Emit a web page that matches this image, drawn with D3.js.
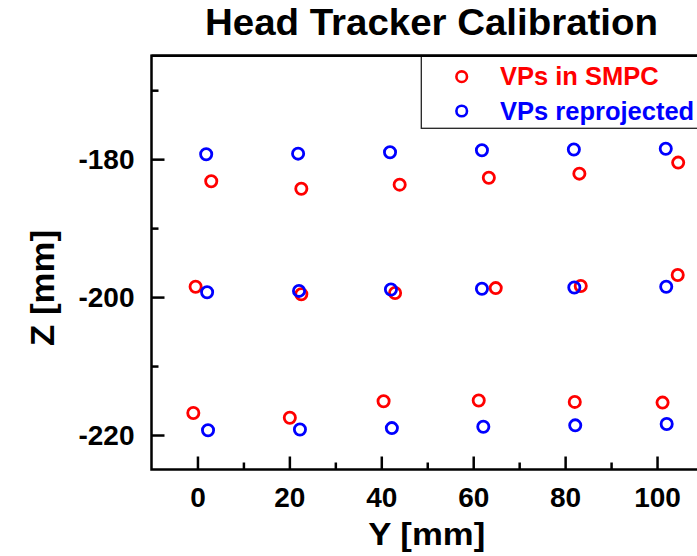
<!DOCTYPE html>
<html>
<head>
<meta charset="utf-8">
<script src="https://cdn.jsdelivr.net/npm/d3@7"></script>
<style>
  html, body { margin: 0; padding: 0; background: #fff; }
  svg { display: block; }
  text { font-family: "Liberation Sans", Arial, sans-serif; font-weight: bold; }
</style>
</head>
<body>
<script>
// ---- Data ----
const seriesNames = ["VPs in SMPC", "VPs reprojected"];
const seriesColors = ["#ff0000", "#0000ff"];

const smpcY = [3.0, 22.6, 44.0, 63.4, 83.1, 104.6, -0.4, 22.6, 43.0, 64.9, 83.4, 104.5, -0.9, 20.1, 40.5, 61.2, 82.1, 101.2];
const smpcZ = [-183.2, -184.3, -183.7, -182.7, -182.1, -180.5, -198.5, -199.6, -199.4, -198.7, -198.4, -196.8, -216.8, -217.5, -215.1, -215.0, -215.2, -215.3];

const reprojY = [1.9, 21.9, 41.9, 61.9, 81.9, 101.9, 2.1, 22.1, 42.1, 61.9, 82.0, 102.0, 2.3, 22.3, 42.3, 62.2, 82.2, 102.1];
const reprojZ = [-179.3, -179.2, -179.0, -178.7, -178.6, -178.5, -199.3, -199.1, -198.9, -198.8, -198.6, -198.5, -219.3, -219.2, -219.0, -218.8, -218.6, -218.4];

const xMajorTicks = [0, 20, 40, 60, 80, 100];
const xMinorTicks = [10, 30, 50, 70, 90, 110];
const yMajorTicks = [-180, -200, -220];
const yMinorTicks = [-170, -190, -210];

const titleText = "Head Tracker Calibration";
const xLabel = "Y [mm]";
const yLabel = "Z [mm]";

(function () {
// ---- Layout ----
const W = 697, H = 556;
const mLeft = 151.5, mRight = 703, mTop = 55.7, mBottom = 469.5;

const svg = d3.select("body").append("svg").attr("width", W).attr("height", H);

const x = d3.scaleLinear().domain([-10, 110]).range([mLeft, mRight]);
const y = d3.scaleLinear().domain([-225, -165]).range([mBottom, mTop]);

// Title
svg.append("text")
  .attr("x", 431.5).attr("y", 35)
  .attr("text-anchor", "middle")
  .attr("font-size", 36)
  .attr("textLength", 453).attr("lengthAdjust", "spacingAndGlyphs")
  .text(titleText);

const fmt = d => String(d);

// Axes
const xAxis = svg.append("g").attr("transform", `translate(0,${mBottom})`)
  .call(d3.axisBottom(x).tickValues(xMajorTicks).tickSize(-13).tickPadding(18).tickFormat(fmt));
const xMinor = svg.append("g").attr("transform", `translate(0,${mBottom})`)
  .call(d3.axisBottom(x).tickValues(xMinorTicks).tickSize(-7).tickFormat(""));
const yAxis = svg.append("g").attr("transform", `translate(${mLeft},0)`)
  .call(d3.axisLeft(y).tickValues(yMajorTicks).tickSize(-13).tickPadding(17).tickFormat(fmt));
const yMinor = svg.append("g").attr("transform", `translate(${mLeft},0)`)
  .call(d3.axisLeft(y).tickValues(yMinorTicks).tickSize(-7).tickFormat(""));

[xAxis, xMinor, yAxis, yMinor].forEach(g => {
  g.select(".domain").remove();
  g.selectAll(".tick line").attr("stroke", "#000").attr("stroke-width", 2.5);
  g.selectAll(".tick text").attr("fill", "#000").attr("font-size", 28)
    .attr("font-family", "Liberation Sans, Arial, sans-serif").attr("font-weight", "bold");
});
yAxis.selectAll(".tick text").attr("dy", "0.33em");

// Frame
svg.append("rect")
  .attr("x", mLeft).attr("y", mTop)
  .attr("width", mRight - mLeft).attr("height", mBottom - mTop)
  .attr("fill", "none").attr("stroke", "#000").attr("stroke-width", 2.5);

// Axis labels
svg.append("text")
  .attr("x", 426.7).attr("y", 545)
  .attr("text-anchor", "middle")
  .attr("font-size", 32)
  .attr("textLength", 117).attr("lengthAdjust", "spacingAndGlyphs")
  .text(xLabel);

svg.append("text")
  .attr("transform", "translate(53.5,288) rotate(-90)")
  .attr("text-anchor", "middle")
  .attr("font-size", 33)
  .attr("textLength", 116).attr("lengthAdjust", "spacingAndGlyphs")
  .text(yLabel);

// Points
const smpc = smpcY.map((v, i) => ({ y: v, z: smpcZ[i] }));
const reproj = reprojY.map((v, i) => ({ y: v, z: reprojZ[i] }));

const plot = svg.append("g");
[smpc, reproj].forEach((data, si) => {
  plot.selectAll(null).data(data).enter().append("circle")
    .attr("cx", d => x(d.y)).attr("cy", d => y(d.z))
    .attr("r", 5.6)
    .attr("fill", "none")
    .attr("stroke", seriesColors[si])
    .attr("stroke-width", 2.8);
});

// Legend
const legend = svg.append("g");
legend.append("rect")
  .attr("x", 421.3).attr("y", mTop)
  .attr("width", 300).attr("height", 128.3 - mTop)
  .attr("fill", "#fff").attr("stroke", "#222").attr("stroke-width", 1.3);
svg.append("line").attr("x1", mLeft).attr("x2", mRight).attr("y1", mTop).attr("y2", mTop)
  .attr("stroke", "#000").attr("stroke-width", 2.5);
const legendY = [76.7, 111];
const legendBase = [85, 120];
seriesNames.forEach((name, i) => {
  legend.append("circle")
    .attr("cx", 461.7).attr("cy", legendY[i]).attr("r", 5.3)
    .attr("fill", "none").attr("stroke", seriesColors[i]).attr("stroke-width", 2.6);
  legend.append("text")
    .attr("x", 500).attr("y", legendBase[i])
    .attr("font-size", 25.5)
    .attr("fill", seriesColors[i])
    .text(name);
});
})();
</script>
</body>
</html>
